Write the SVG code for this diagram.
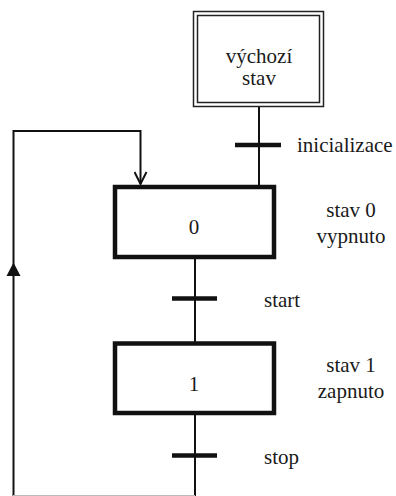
<svg xmlns="http://www.w3.org/2000/svg" width="396" height="496" viewBox="0 0 396 496">
  <style>
    .lbl { font-family: "Liberation Serif", "Times New Roman", serif; font-size: 21px; fill: #1a1a1a; }
    .mid { text-anchor: middle; }
    .wire { stroke: #111; stroke-width: 2; fill: none; }
    .bar { stroke: #111; stroke-width: 4.5; fill: none; }
    .step { fill: #fff; stroke: #111; stroke-width: 4.5; }
    .init { fill: none; stroke: #222; stroke-width: 1.5; }
  </style>
  <defs>
    <!-- open V arrowhead, drawn along +x so orient="auto" follows the line -->
    <marker id="openArrow" viewBox="0 0 14 14" refX="13" refY="7" markerWidth="14" markerHeight="14" markerUnits="userSpaceOnUse" orient="auto">
      <path d="M1,1 L13,7 L1,13" fill="none" stroke="#111" stroke-width="2"/>
    </marker>
  </defs>

  <!-- connectors -->
  <g id="connectors">
    <line class="wire" x1="259" y1="106" x2="259" y2="186"/>
    <line class="wire" x1="195" y1="258" x2="195" y2="342"/>
    <line class="wire" x1="195" y1="414" x2="195" y2="496"/>
    <!-- return loop -->
    <path class="wire" d="M13.5,496 L13.5,131 L140.5,131 L140.5,184" marker-end="url(#openArrow)"/>
    <polygon points="13.5,262.5 6.5,276 20.5,276" fill="#111"/>
    <line x1="13" y1="495.5" x2="195" y2="495.5" stroke="#bbb" stroke-width="1"/>
  </g>

  <!-- initial step -->
  <g id="step-init">
    <rect class="init" x="193.5" y="11.5" width="130" height="95"/>
    <rect class="init" x="197.5" y="15.5" width="122" height="87" stroke-width="1.2"/>
    <text class="lbl mid" x="259" y="63">výchozí</text>
    <text class="lbl mid" x="259" y="85">stav</text>
  </g>

  <!-- transition: inicializace -->
  <g id="tr-init">
    <line class="bar" x1="235" y1="145" x2="281" y2="145"/>
    <text class="lbl" x="297" y="152">inicializace</text>
  </g>

  <!-- step 0 -->
  <g id="step-0">
    <rect class="step" x="115" y="187" width="159" height="70"/>
    <text class="lbl mid" x="194" y="234">0</text>
    <text class="lbl mid" x="351" y="217">stav 0</text>
    <text class="lbl mid" x="351" y="243">vypnuto</text>
  </g>

  <!-- transition: start -->
  <g id="tr-start">
    <line class="bar" x1="172" y1="298.5" x2="217" y2="298.5"/>
    <text class="lbl" x="264" y="306.5">start</text>
  </g>

  <!-- step 1 -->
  <g id="step-1">
    <rect class="step" x="115" y="343.5" width="159" height="69.5"/>
    <text class="lbl mid" x="194" y="391">1</text>
    <text class="lbl mid" x="351" y="372">stav 1</text>
    <text class="lbl mid" x="351" y="398">zapnuto</text>
  </g>

  <!-- transition: stop -->
  <g id="tr-stop">
    <line class="bar" x1="172" y1="455.5" x2="217" y2="455.5"/>
    <text class="lbl" x="264" y="464">stop</text>
  </g>
</svg>
